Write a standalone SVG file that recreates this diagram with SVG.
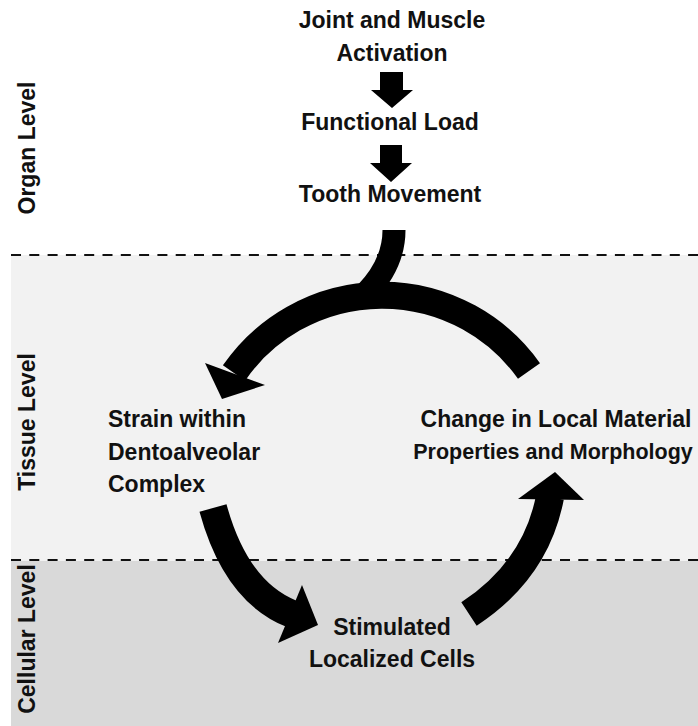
<svg xmlns="http://www.w3.org/2000/svg" width="698" height="726" viewBox="0 0 698 726">
<style>
text{font-family:"Liberation Sans",Arial,sans-serif;font-weight:bold;font-size:23px;fill:#111;}
.c{text-anchor:middle;}
.dash{stroke:#111;stroke-width:2.2;stroke-dasharray:10 8.3;fill:none;}
.band{fill:none;stroke:#000;stroke-linecap:butt;}
</style>
<g id="background">
<rect x="0" y="0" width="698" height="726" fill="#ffffff"/>
<rect x="11" y="255" width="687" height="306" fill="#f2f2f2"/>
<rect x="11" y="561" width="687" height="165" fill="#d9d9d9"/>
<line class="dash" x1="11" y1="255" x2="698" y2="255"/>
<line class="dash" x1="11" y1="560" x2="698" y2="560"/>
</g>
<g id="level-labels">
<text class="c" transform="translate(35,148) rotate(-90)">Organ Level</text>
<text class="c" transform="translate(35,422) rotate(-90)">Tissue Level</text>
<text class="c" transform="translate(35,639) rotate(-90)">Cellular Level</text>
</g>
<g id="node-joint"><text class="c" x="392" y="28">Joint and Muscle</text><text class="c" x="392" y="61">Activation</text></g>
<g id="node-load"><text class="c" x="390" y="130">Functional Load</text></g>
<g id="node-tooth"><text class="c" x="390" y="202">Tooth Movement</text></g>
<g id="node-strain"><text x="108" y="427">Strain within</text><text x="108" y="460">Dentoalveolar</text><text x="108" y="492">Complex</text></g>
<g id="node-change"><text class="c" x="556" y="427">Change in Local Material</text><text class="c" x="553" y="459" style="font-size:21.5px">Properties and Morphology</text></g>
<g id="node-cells"><text class="c" x="392" y="635">Stimulated</text><text class="c" x="392" y="667">Localized Cells</text></g>
<g id="connectors">
<polygon points="380,72 403,72 403,90 413,90 392,108 371,90 380,90" fill="#000"/>
<polygon points="380,145 402,145 402,163 412,163 391,182 370,163 380,163" fill="#000"/>
<path class="band" d="M394,230 Q394,264 366,293" stroke-width="23"/>
<path class="band" d="M529,371 A180,180 0 0 0 234,373" stroke-width="27"/>
<polygon points="205,363 265,385 222,399" fill="#000"/>
<path class="band" d="M213,508 Q236,592 292,614" stroke-width="28"/>
<polygon points="302,585 278,643 318,625" fill="#000"/>
<path class="band" d="M469,614 Q536,570 550,497" stroke-width="28"/>
<polygon points="518,499 584,500 555,472" fill="#000"/>
</g>
</svg>
